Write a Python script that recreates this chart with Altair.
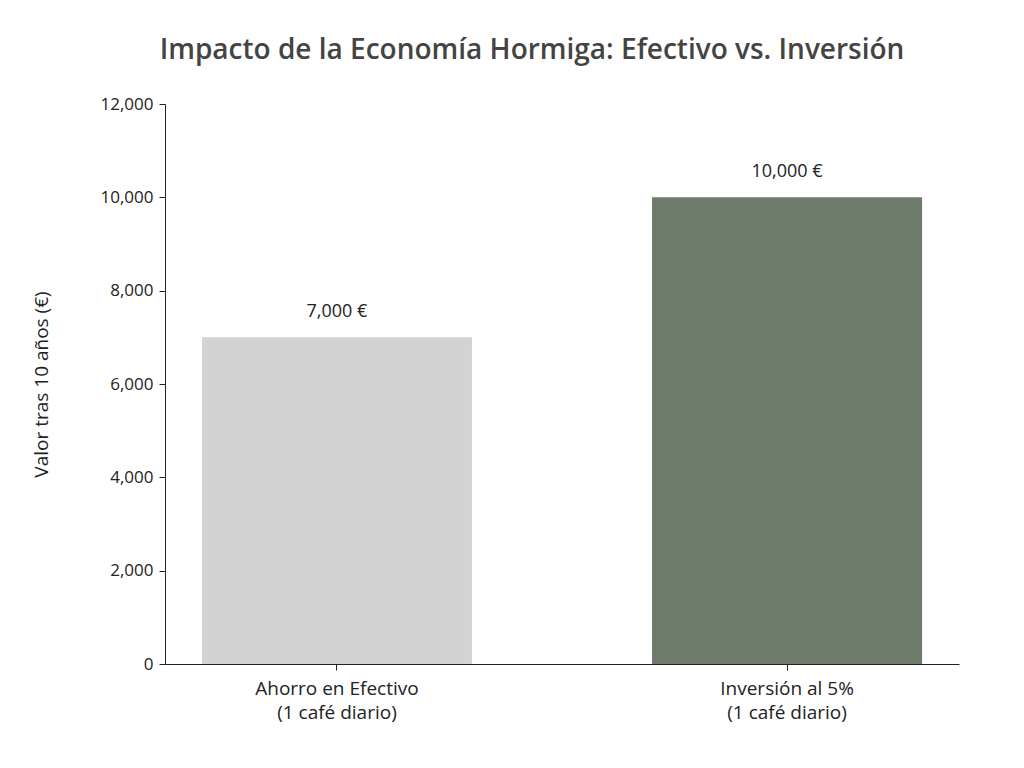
import altair as alt
import pandas as pd

categories = ["Ahorro en Efectivo\n(1 café diario)", "Inversión al 5%\n(1 café diario)"]
values = [7000, 10000]
value_labels = ["7,000 €", "10,000 €"]
colors = ["#d3d3d3", "#6e7b6b"]

df = pd.DataFrame({"cat": categories, "val": values, "lab": value_labels, "col": colors})

FONT = "Open Sans"

base = alt.Chart(df).encode(
    x=alt.X("cat:N", sort=categories,
            scale=alt.Scale(paddingInner=0.4, paddingOuter=0.082),
            axis=alt.Axis(title=None, labelAngle=0, labelExpr="split(datum.label, '\\n')",
                          labelFontSize=19, labelColor="#222", labelPadding=9,
                          labelLineHeight=24, tickSize=6, domainColor="#222", tickColor="#222",
                          labelFont=FONT)),
)

bars = base.mark_bar().encode(
    y=alt.Y("val:Q", scale=alt.Scale(domain=[0, 12000], nice=False),
            axis=alt.Axis(title="Valor tras 10 años (€)", values=[0, 2000, 4000, 6000, 8000, 10000, 12000],
                          format=",d", grid=False, labelFontSize=17, labelColor="#222",
                          titleFontSize=19, titleFontWeight="normal", titleColor="#222",
                          titlePadding=48, tickSize=6, domainColor="#222", tickColor="#222",
                          labelFont=FONT, titleFont=FONT, labelPadding=6)),
    color=alt.Color("col:N", scale=None),
)

text = base.mark_text(dy=-25, fontSize=18, color="#222", font=FONT).encode(
    y=alt.Y("val:Q"),
    text="lab:N",
)

chart = (bars + text).properties(
    width=794,
    height=560,
    background="white",
    padding={"left": 24, "top": 29, "right": 5, "bottom": 5},
    title=alt.TitleParams("Impacto de la Economía Hormiga: Efectivo vs. Inversión",
                          fontSize=28, font=FONT, fontWeight=600, color="#444", offset=30, dx=-30),
).configure_view(strokeWidth=0)

chart.save("out.html", embed_options={"renderer": "svg", "actions": False})
